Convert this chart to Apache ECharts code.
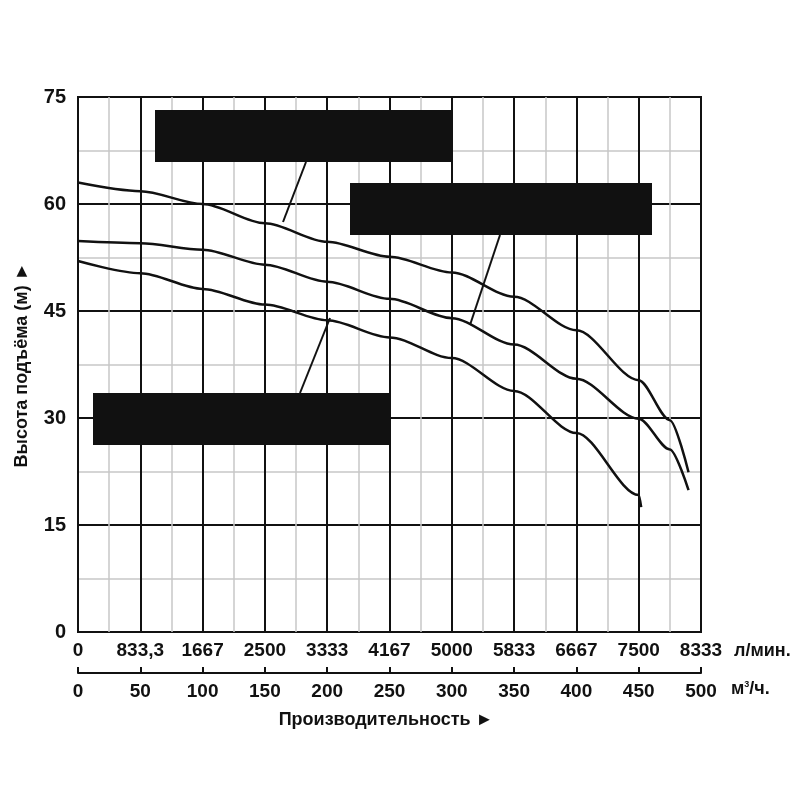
<!DOCTYPE html>
<html>
<head>
<meta charset="utf-8">
<script src="https://cdn.jsdelivr.net/npm/echarts@6/dist/echarts.min.js"></script>
<style>html,body{margin:0;background:#fff}#chart{width:800px;height:800px}</style>
</head>
<body>
<div id="chart"></div>
<script>
// flow values, m3/h
var flowA = [0, 50, 100, 150, 200, 250, 300, 350, 400, 450, 475, 490];
var headA = [63, 61.8, 60, 57.3, 54.7, 52.6, 50.4, 47, 42.3, 35.3, 29.7, 22.4];
var flowB = [0, 50, 100, 150, 200, 250, 300, 350, 400, 450, 475, 490];
var headB = [54.8, 54.5, 53.6, 51.5, 49.1, 46.7, 44, 40.3, 35.5, 29.9, 25.6, 19.9];
var flowC = [0, 50, 100, 150, 200, 250, 300, 350, 400, 450, 452];
var headC = [52, 50.3, 48.1, 45.9, 43.7, 41.3, 38.4, 33.8, 27.9, 19.2, 17.5];
var lpmLabels = ["0", "833,3", "1667", "2500", "3333", "4167", "5000", "5833", "6667", "7500", "8333"];
var names = ["200WQ300-50-90\n(4P,380V,NSK,3S,Bur)-VAB", "200WQ350-40-75\n(4P,380V,NSK,3S,Bur)-VAB", "200WQ300-38-55\n(4P,380V,NSK,3S,Bur)-VAB"];

function pairs(xs, ys) { return xs.map(function (x, i) { return [x, ys[i]]; }); }

var chart = echarts.init(document.getElementById("chart"));
var font = "Liberation Sans";
var lab = {color: "#111", fontFamily: font, fontWeight: "bold", fontSize: 19};
function line(d) {
    return {type: "line", smooth: 0.3, smoothMonotone: "x", symbol: "none", data: d, lineStyle: {color: "#111", width: 2.5}, z: 5};
}
function box(x, y, w, text) {
    return {type: "rect", x: x, y: y, z: 20, shape: {width: w, height: 52}, style: {fill: "#111"},
        textContent: {style: {text: text, fill: "#fff", font: "bold 18px Liberation Sans", align: "center", lineHeight: 23}},
        textConfig: {position: "inside"}};
}
function pointer(x1, y1, x2, y2) {
    return {type: "line", z: 20, shape: {x1: x1, y1: y1, x2: x2, y2: y2}, style: {stroke: "#111", lineWidth: 2}};
}
chart.setOption({
    animation: false,
    grid: {left: 78, right: 99, top: 97, bottom: 168, show: true, borderColor: "#111", borderWidth: 2},
    xAxis: [{
        type: "value", min: 0, max: 500, interval: 50, position: "bottom",
        axisLine: {show: false}, axisTick: {show: false},
        axisLabel: Object.assign({margin: 9, formatter: function (v) { return lpmLabels[v / 50]; }}, lab),
        splitLine: {lineStyle: {color: "#111", width: 2}},
        minorTick: {show: false, splitNumber: 2},
        minorSplitLine: {show: true, lineStyle: {color: "#c8c8c8", width: 1.5}}
    }, {
        type: "value", min: 0, max: 500, interval: 50, position: "bottom", offset: 41,
        axisLine: {show: true, lineStyle: {color: "#111", width: 2}},
        axisTick: {show: true, inside: true, length: 6, lineStyle: {color: "#111", width: 2}},
        axisLabel: Object.assign({margin: 9}, lab),
        splitLine: {show: false}
    }],
    yAxis: {
        type: "value", min: 0, max: 75, interval: 15,
        axisLine: {show: false}, axisTick: {show: false},
        axisLabel: Object.assign({margin: 12}, lab, {fontSize: 20}),
        splitLine: {lineStyle: {color: "#111", width: 2}},
        minorTick: {show: false, splitNumber: 2},
        minorSplitLine: {show: true, lineStyle: {color: "#c8c8c8", width: 1.5}}
    },
    series: [line(pairs(flowA, headA)), line(pairs(flowB, headB)), line(pairs(flowC, headC))],
    graphic: [
        box(155, 110, 297, names[0]),
        box(350, 183, 302, names[1]),
        box(93, 393, 297, names[2]),
        pointer(283, 222, 306, 162),
        pointer(470, 325, 500, 235),
        pointer(300, 393, 330, 318),
        {type: "text", x: 734, y: 642, style: {text: "л/мин.", fill: "#111", font: "bold 18px Liberation Sans"}},
        {type: "text", x: 731, y: 680, style: {rich: {a: {fontSize: 18, fontWeight: "bold", fontFamily: font}, s: {fontSize: 9, fontWeight: "bold", fontFamily: font, verticalAlign: "top", padding: [0, 0, 9, 0]}}, text: "{a|м}{s|3}{a|/ч.}", fill: "#111"}},
        {type: "text", x: 386, y: 720, style: {text: "Производительность ►", fill: "#111", font: "bold 18px Liberation Sans", align: "center", verticalAlign: "middle"}},
        {type: "text", x: 22, y: 365, rotation: Math.PI / 2, style: {text: "Высота подъёма (м) ►", fill: "#111", font: "bold 18px Liberation Sans", align: "center", verticalAlign: "middle"}}
    ]
});
</script>
</body>
</html>
